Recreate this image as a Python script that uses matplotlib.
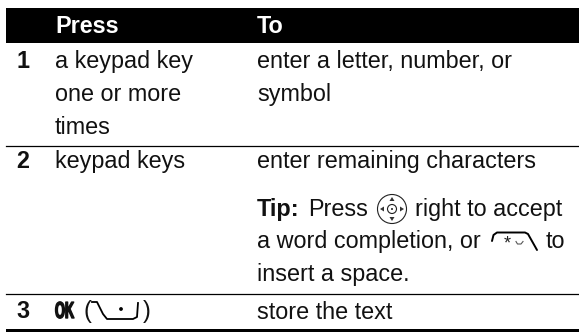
import matplotlib
matplotlib.use("Agg")
import matplotlib.pyplot as plt
import matplotlib.patheffects as pe
from matplotlib.patches import Circle, Rectangle, Polygon
from matplotlib.transforms import Affine2D

# Table content
row_numbers = ["1", "2", "3"]
headers = ["Press", "To"]
press_lines = ["a keypad key", "one or more", "times", "keypad keys"]
to_lines = ["enter a letter, number, or", "symbol", "enter remaining characters",
            "insert a space.", "store the text"]

plt.rcParams["font.family"] = ["Liberation Sans", "DejaVu Sans"]
FS = 16.8


class Squeeze(pe.AbstractPathEffect):
    # Rescale and thicken a text, the OK softkey glyph is a heavy condensed face.
    def __init__(self, sx, sy, lw):
        super().__init__()
        self.sx = sx
        self.sy = sy
        self.lw = lw

    def draw_path(self, renderer, gc, tpath, affine, rgbFace=None):
        m = affine.get_matrix()
        x0, y0 = m[0, 2], m[1, 2]
        scaled = affine + Affine2D().translate(-x0, -y0).scale(self.sx, self.sy).translate(x0, y0)
        gc0 = renderer.new_gc()
        gc0.copy_properties(gc)
        gc0.set_foreground(rgbFace)
        gc0.set_linewidth(self.lw)
        renderer.draw_path(gc0, tpath, scaled, rgbFace)
        gc0.restore()


fig = plt.figure(figsize=(5.79, 3.32), dpi=100)
ax = fig.add_axes([0, 0, 1, 1])
ax.set_xlim(0, 579)
ax.set_ylim(332, 0)
ax.axis("off")


def txt(x, y, s, bold=False, color="#111111", size=FS, **kw):
    return ax.text(x, y, s, fontsize=size, fontweight="bold" if bold else "normal",
                   color=color, va="baseline", ha="left", **kw)


# Header band and rules
ax.add_patch(Rectangle((6, 8), 573, 35, color="black", lw=0))
ax.plot([6, 579], [145.5, 145.5], color="black", lw=0.9)
ax.plot([6, 579], [293.5, 293.5], color="black", lw=0.9)
ax.add_patch(Rectangle((6, 329), 573, 3, color="black", lw=0))

txt(55.5, 33, headers[0], bold=True, color="white", size=FS)
txt(257, 33, headers[1], bold=True, color="white", size=FS)

# Row numbers
txt(16.5, 68, row_numbers[0], bold=True)
txt(16.5, 168, row_numbers[1], bold=True)
txt(16.5, 318, row_numbers[2], bold=True)

# Press column
txt(55, 68, press_lines[0])
txt(55, 101, press_lines[1])
txt(55, 134, press_lines[2])
txt(55, 168, press_lines[3])

# To column
txt(257, 68, to_lines[0])
txt(257, 101, to_lines[1])
txt(257, 168, to_lines[2])

# Tip paragraph
txt(257, 216, "Tip:", bold=True)
txt(308, 216, "Press")
txt(415, 216, "right to accept")
txt(257, 248, "a word completion, or")
txt(546, 248, "to")
txt(257, 281, to_lines[3])
txt(257, 319, to_lines[4])

# Nav key icon
ax.add_patch(Circle((392, 209), 14.5, fill=False, ec="#222222", lw=0.8))
ax.add_patch(Circle((392, 209), 4.5, fill=False, ec="#222222", lw=0.8))
ax.add_patch(Circle((392, 209), 1, color="#222222", lw=0))
for tri in ([(392, 197), (389.5, 201), (394.5, 201)], [(392, 221), (389.5, 217), (394.5, 217)],
            [(380, 209), (384, 206.5), (384, 211.5)], [(404, 209), (400, 206.5), (400, 211.5)]):
    ax.add_patch(Polygon(tri, color="#333333", lw=0))

# Star / space key icon
ax.plot([492, 493.5, 497, 525, 528, 537], [241, 235, 232.5, 232.5, 234, 250],
        color="black", lw=1.4, solid_capstyle="round")
ax.text(507, 248, "*", fontsize=13, ha="center", va="baseline", color="#222222")
ax.plot([516, 517.5, 521, 523], [241.5, 244, 244, 241.5], color="#555555", lw=0.8)

# OK softkey row
ok = txt(55, 318, "OK", bold=True, size=11.5)
ok.set_path_effects([Squeeze(0.8, 1.45, 1.0)])
txt(83.5, 318, "(")
ax.plot([92, 97, 103, 107, 133, 137, 138], [302, 302, 314, 319, 319, 317, 303],
        color="black", lw=1.3)
ax.add_patch(Circle((121, 309), 1.9, color="black", lw=0))
txt(143, 318, ")")

fig.savefig("out.png", dpi=100)
